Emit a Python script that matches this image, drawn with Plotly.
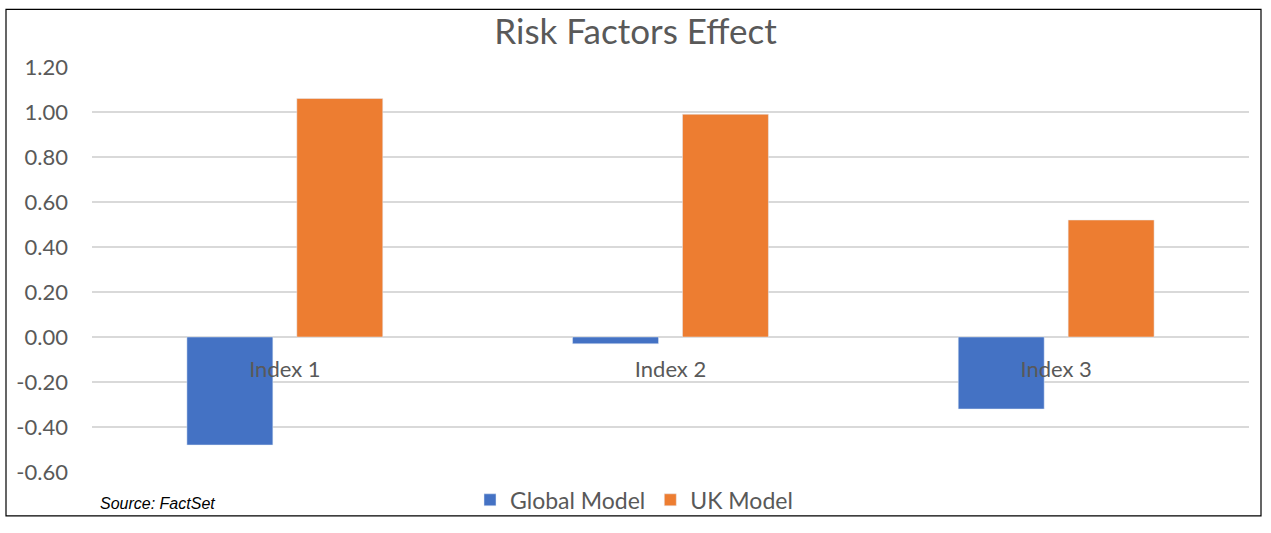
import plotly.graph_objects as go

categories = ["Index 1", "Index 2", "Index 3"]
global_model = [-0.48, -0.03, -0.32]
uk_model = [1.06, 0.99, 0.52]
y_ticks = [1.2, 1.0, 0.8, 0.6, 0.4, 0.2, 0.0, -0.2, -0.4, -0.6]
y_tick_labels = ["1.20", "1.00", "0.80", "0.60", "0.40", "0.20", "0.00", "-0.20", "-0.40", "-0.60"]

W, H = 1271, 533
L, R, T, B = 92, 1249, 67, 474
pw, ph = R - L, B - T

FONT = "Lato"
GREY = "#595959"

fig = go.Figure()
fig.add_trace(go.Bar(x=categories, y=global_model, name="Global Model", marker_color="#4472C4"))
fig.add_trace(go.Bar(x=categories, y=uk_model, name="UK Model", marker_color="#ED7D31"))

ymin, ymax = -0.6, 1.2
zero_pos = (0 - ymin) / (ymax - ymin)

fig.update_layout(
    width=W, height=H,
    margin=dict(l=L, r=W - R, t=T, b=H - B, pad=0),
    paper_bgcolor="white", plot_bgcolor="white",
    barmode="group", bargap=0.43, bargroupgap=0.218,
    title=dict(text="Risk Factors Effect", x=0.5, xanchor="center", y=1 - 32 / H, yanchor="middle",
               font=dict(family=FONT, size=35, color=GREY)),
    legend=dict(orientation="h", x=(634 - L) / pw, xanchor="center", y=(B - 502) / ph, yanchor="middle",
                bgcolor="rgba(0,0,0,0)", itemwidth=30,
                font=dict(family=FONT, size=23, color=GREY), traceorder="normal"),
    xaxis=dict(anchor="free", position=zero_pos, showline=False, ticks="", showgrid=False,
               tickfont=dict(family=FONT, size=22, color=GREY), ticklabelstandoff=17),
    yaxis=dict(range=[ymin, ymax], tickvals=y_ticks, ticktext=y_tick_labels, domain=[0, 1],
               showgrid=True, gridcolor="#D9D9D9", gridwidth=1.5,
               zeroline=True, zerolinecolor="#D9D9D9", zerolinewidth=1.5,
               tickfont=dict(family=FONT, size=22, color=GREY), ticks="", ticklabelstandoff=23),
    shapes=[dict(type="rect", xref="paper", yref="paper",
                 x0=(6 - L) / pw, x1=(1261 - L) / pw, y0=(B - 518) / ph, y1=(B - 9) / ph,
                 line=dict(color="black", width=1.2), fillcolor="rgba(0,0,0,0)", layer="below")],
    annotations=[dict(text="<i>Source: FactSet</i>", xref="paper", yref="paper",
                      x=(98 - L) / pw, y=(B - 506) / ph, xanchor="left", yanchor="middle",
                      showarrow=False, font=dict(family="Liberation Sans", size=16, color="black"))],
)

fig.write_html("out.html")
